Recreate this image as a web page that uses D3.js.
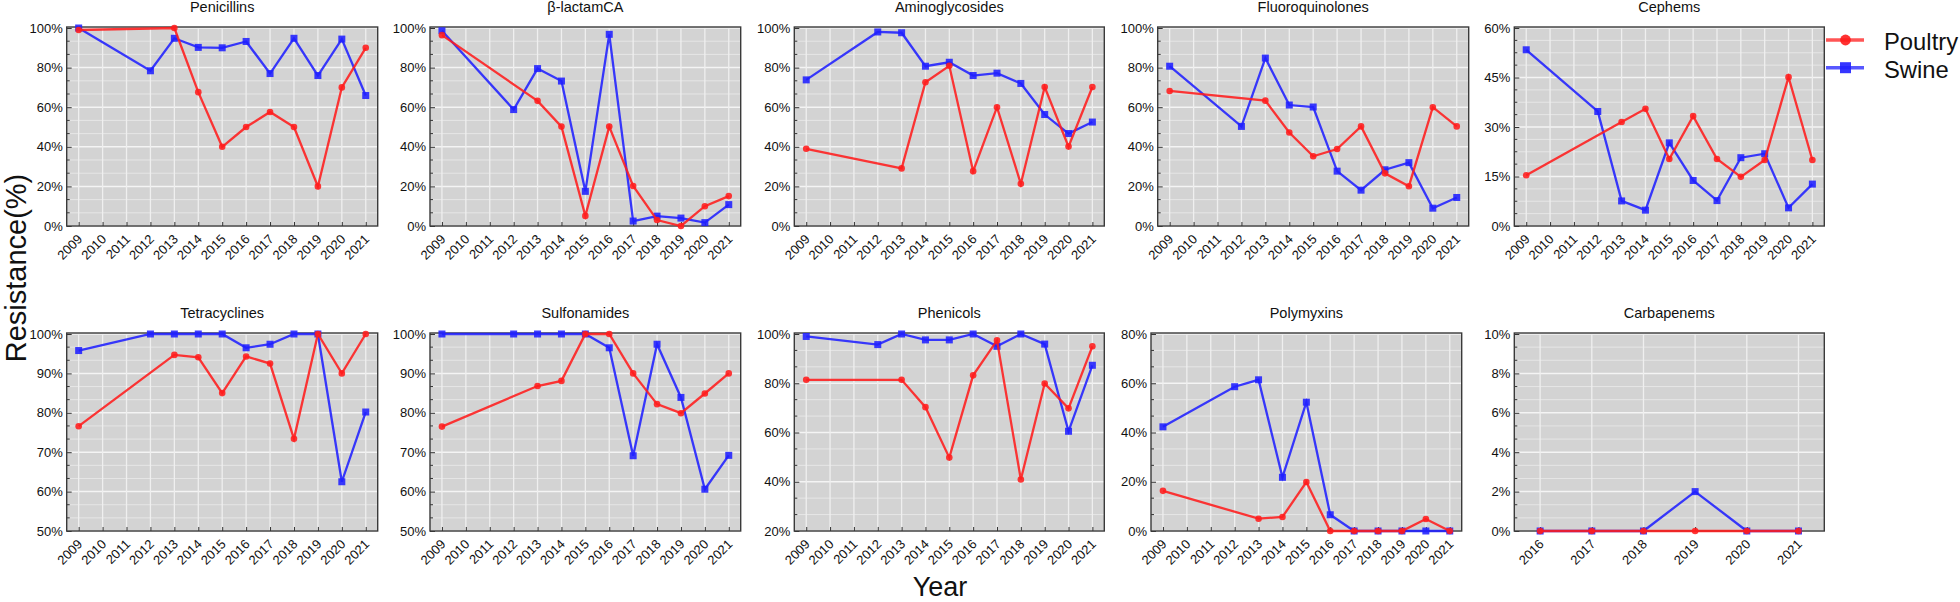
<!DOCTYPE html>
<html>
<head>
<meta charset="utf-8">
<script src="https://cdn.jsdelivr.net/npm/d3@7"></script>
<style>
  html, body { margin: 0; padding: 0; background: #fff; }
  svg { display: block; font-family: "Liberation Sans", Arial, sans-serif; }
</style>
</head>
<body>
<svg id="chart" width="1960" height="602"></svg>
<script>
// ---------------- DATA ----------------
const years = [2009, 2010, 2011, 2012, 2013, 2014, 2015, 2016, 2017, 2018, 2019, 2020, 2021];
const carbaYears = [2016, 2017, 2018, 2019, 2020, 2021];
const seriesNames = ["Poultry", "Swine"];

const penicillinsPoultry = [99, null, null, null, 100, 67.6, 40, 50, 57.6, 50, 20, 70, 90];
const penicillinsSwine   = [100, null, null, 78.4, 94.8, 90.2, 90, 93.2, 77, 94.8, 76, 94.4, 65.9];
const betaPoultry = [96.4, null, null, null, 63.2, 50.2, 5.1, 50.2, 20.2, 3, 0, 10, 15.1];
const betaSwine   = [98.6, null, null, 58.8, 79.5, 73.2, 17.5, 96.8, 2.5, 5, 4, 1.7, 10.8];
const aminoPoultry = [39, null, null, null, 29.1, 72.6, 80.9, 27.7, 60, 21.3, 70.2, 40.1, 70.2];
const aminoSwine   = [73.8, null, null, 98, 97.6, 80.7, 82.7, 76, 77.2, 72, 56.3, 46.7, 52.5];
const fluoroPoultry = [68.2, null, null, null, 63.3, 47.2, 35.2, 38.9, 50.3, 26.6, 20.1, 60, 50.3];
const fluoroSwine   = [80.7, null, null, 50.3, 84.8, 61.1, 60.1, 27.7, 18.1, 28.4, 32, 9, 14.4];
const cephemsPoultry = [15.4, null, null, null, 31.5, 35.5, 20.3, 33.3, 20.3, 14.9, 20, 45.1, 20];
const cephemsSwine   = [53.4, null, null, 34.7, 7.6, 4.8, 25.2, 13.8, 7.7, 20.7, 21.9, 5.5, 12.7];
const tetraPoultry = [76.6, null, null, null, 94.7, 94.1, 85, 94.3, 92.5, 73.4, 100, 90, 100];
const tetraSwine   = [95.8, null, null, 100, 100, 100, 100, 96.5, 97.4, 100, 100, 62.5, 80.2];
const sulfoPoultry = [76.5, null, null, null, 86.8, 88.1, 100, 100, 90, 82.2, 79.9, 84.9, 90];
const sulfoSwine   = [100, null, null, 100, 100, 100, 100, 96.5, 69.1, 97.4, 83.9, 60.6, 69.2];
const phenPoultry = [81.4, null, null, null, 81.4, 70.3, 49.8, 83.2, 97.4, 40.9, 79.9, 69.8, 95];
const phenSwine   = [99, null, null, 95.7, 100, 97.6, 97.6, 100, 95, 100, 95.9, 60.5, 87.3];
const polyPoultry = [16.3, null, null, null, 5, 5.7, 19.9, 0, 0, 0, 0, 4.9, 0];
const polySwine   = [42.3, null, null, 58.6, 61.4, 21.8, 52.3, 6.6, 0, 0, 0, 0, 0];
const carbaPoultry = [0, 0, 0, 0, 0, 0];
const carbaSwine   = [0, 0, 0, 2, 0, 0];

const yTicksPct100 = [0, 20, 40, 60, 80, 100];
const yTicksCeph   = [0, 15, 30, 45, 60];
const yTicks50     = [50, 60, 70, 80, 90, 100];
const yTicksPhen   = [20, 40, 60, 80, 100];
const yTicksPoly   = [0, 20, 40, 60, 80];
const yTicksCarba  = [0, 2, 4, 6, 8, 10];

// ---------------- LAYOUT ----------------
const panels = [
  {title: "Penicillins",      x: years,      p: penicillinsPoultry, s: penicillinsSwine, ticks: yTicksPct100, minor: 3, row: 0, l: 66.7,  r: 377.7},
  {title: "β-lactamCA",       x: years,      p: betaPoultry,   s: betaSwine,   ticks: yTicksPct100, minor: 3, row: 0, l: 430,   r: 740.7},
  {title: "Aminoglycosides",  x: years,      p: aminoPoultry,  s: aminoSwine,  ticks: yTicksPct100, minor: 3, row: 0, l: 794.3, r: 1104.3},
  {title: "Fluoroquinolones", x: years,      p: fluoroPoultry, s: fluoroSwine, ticks: yTicksPct100, minor: 3, row: 0, l: 1157.7, r: 1468.7},
  {title: "Cephems",          x: years,      p: cephemsPoultry, s: cephemsSwine, ticks: yTicksCeph, minor: 4, row: 0, l: 1514.3, r: 1824.3},
  {title: "Tetracyclines",    x: years,      p: tetraPoultry,  s: tetraSwine,  ticks: yTicks50,     minor: 3, row: 1, l: 66.7,  r: 377.7},
  {title: "Sulfonamides",     x: years,      p: sulfoPoultry,  s: sulfoSwine,  ticks: yTicks50,     minor: 3, row: 1, l: 430,   r: 740.7},
  {title: "Phenicols",        x: years,      p: phenPoultry,   s: phenSwine,   ticks: yTicksPhen,   minor: 3, row: 1, l: 794.3, r: 1104.3},
  {title: "Polymyxins",       x: years,      p: polyPoultry,   s: polySwine,   ticks: yTicksPoly,   minor: 3, row: 1, l: 1151,  r: 1461.7},
  {title: "Carbapenems",      x: carbaYears, p: carbaPoultry,  s: carbaSwine,  ticks: yTicksCarba,  minor: 3, row: 1, l: 1514.3, r: 1824.3}
];
const rows = [{top: 27, bottom: 226, titleY: 12}, {top: 333, bottom: 531, titleY: 318}];

const RED = "#ff1c1c", BLUE = "#2020ff";
const svg = d3.select("#chart");

panels.forEach(pn => {
  const row = rows[pn.row];
  const g = svg.append("g");
  const x = d3.scalePoint().domain(pn.x).range([pn.l, pn.r]).padding(0.5);
  const y = d3.scaleLinear().domain([pn.ticks[0], pn.ticks[pn.ticks.length - 1]]).range([row.bottom, row.top + 1]);

  g.append("rect").attr("x", pn.l).attr("y", row.top).attr("width", pn.r - pn.l).attr("height", row.bottom - row.top)
    .attr("fill", "#d3d3d3");

  const step = pn.ticks[1] - pn.ticks[0];
  const minorVals = [];
  for (let i = 0; i < pn.ticks.length - 1; i++) {
    for (let k = 1; k < pn.minor; k++) minorVals.push(pn.ticks[i] + step * k / pn.minor);
  }
  g.selectAll(".minor").data(minorVals).enter().append("line")
    .attr("x1", pn.l).attr("x2", pn.r).attr("y1", d => y(d)).attr("y2", d => y(d))
    .attr("stroke", "#e6e6e6").attr("stroke-width", 1);
  g.selectAll(".major").data(pn.ticks).enter().append("line")
    .attr("x1", pn.l).attr("x2", pn.r).attr("y1", d => y(d)).attr("y2", d => y(d))
    .attr("stroke", "#f4f4f4").attr("stroke-width", 1.5);
  g.selectAll(".vg").data(pn.x).enter().append("line")
    .attr("x1", d => x(d)).attr("x2", d => x(d)).attr("y1", row.top).attr("y2", row.bottom)
    .attr("stroke", "#efefef").attr("stroke-width", 1.3);

  g.selectAll(".mt").data(minorVals).enter().append("line")
    .attr("x1", pn.l).attr("x2", pn.l + 3).attr("y1", d => y(d)).attr("y2", d => y(d))
    .attr("stroke", "#333").attr("stroke-width", 1);

  const ya = g.append("g").attr("transform", `translate(${pn.l},0)`)
    .call(d3.axisLeft(y).tickValues(pn.ticks).tickFormat(d => d + "%").tickSizeInner(-5).tickSizeOuter(0).tickPadding(4));
  ya.select(".domain").remove();
  ya.selectAll(".tick line").attr("stroke", "#333");
  ya.selectAll("text").attr("font-size", 13).attr("fill", "#111").attr("font-family", "Liberation Sans, Arial, sans-serif");

  const xa = g.append("g").attr("transform", `translate(0,${row.bottom})`)
    .call(d3.axisBottom(x).tickSizeInner(-4).tickSizeOuter(0).tickPadding(0));
  xa.select(".domain").remove();
  xa.selectAll(".tick line").attr("stroke", "#333");
  xa.selectAll("text").attr("font-size", 13).attr("fill", "#111").attr("font-family", "Liberation Sans, Arial, sans-serif")
    .attr("text-anchor", "end").attr("dy", null).attr("y", null)
    .attr("transform", "translate(4,14) rotate(-45)");

  g.append("rect").attr("x", pn.l).attr("y", row.top).attr("width", pn.r - pn.l).attr("height", row.bottom - row.top)
    .attr("fill", "none").attr("stroke", "#3a3a3a").attr("stroke-width", 1.4);

  g.append("text").attr("x", (pn.l + pn.r) / 2).attr("y", row.titleY).attr("text-anchor", "middle")
    .attr("font-size", 14.5).attr("fill", "#111").text(pn.title);

  const drawSeries = (vals, color, shape) => {
    const pts = pn.x.map((yr, i) => ({yr, v: vals[i]})).filter(d => d.v !== null);
    const line = d3.line().x(d => x(d.yr)).y(d => y(d.v));
    g.append("path").datum(pts).attr("d", line).attr("fill", "none")
      .attr("stroke", color).attr("stroke-width", 2.3).attr("stroke-opacity", 0.88);
    if (shape === "circle") {
      g.selectAll(null).data(pts).enter().append("circle")
        .attr("cx", d => x(d.yr)).attr("cy", d => y(d.v)).attr("r", 3.3)
        .attr("fill", color).attr("fill-opacity", 0.88);
    } else {
      g.selectAll(null).data(pts).enter().append("rect")
        .attr("x", d => x(d.yr) - 3.5).attr("y", d => y(d.v) - 3.5).attr("width", 7).attr("height", 7)
        .attr("fill", color).attr("fill-opacity", 0.88);
    }
  };
  drawSeries(pn.s, BLUE, "square");
  drawSeries(pn.p, RED, "circle");
});

// Legend
const legend = svg.append("g");
const legendItems = [{name: seriesNames[0], color: RED, shape: "circle", y: 40},
                     {name: seriesNames[1], color: BLUE, shape: "square", y: 67.7}];
legendItems.forEach(it => {
  legend.append("line").attr("x1", 1826).attr("x2", 1864).attr("y1", it.y).attr("y2", it.y)
    .attr("stroke", it.color).attr("stroke-width", 3.5).attr("stroke-opacity", 0.75);
  if (it.shape === "circle") {
    legend.append("circle").attr("cx", 1845.5).attr("cy", it.y).attr("r", 5.4).attr("fill", it.color).attr("fill-opacity", 0.9);
  } else {
    legend.append("rect").attr("x", 1840).attr("y", it.y - 5.5).attr("width", 11).attr("height", 11).attr("fill", it.color).attr("fill-opacity", 0.9);
  }
  legend.append("text").attr("x", 1884).attr("y", it.y + 10).attr("font-size", 23.8).attr("fill", "#111").text(it.name);
});

// Axis titles
svg.append("text").attr("transform", "translate(26,268) rotate(-90)").attr("text-anchor", "middle")
  .attr("font-size", 29).attr("fill", "#111").text("Resistance(%)");
svg.append("text").attr("x", 940).attr("y", 596).attr("text-anchor", "middle")
  .attr("font-size", 27).attr("fill", "#111").text("Year");
</script>
</body>
</html>
